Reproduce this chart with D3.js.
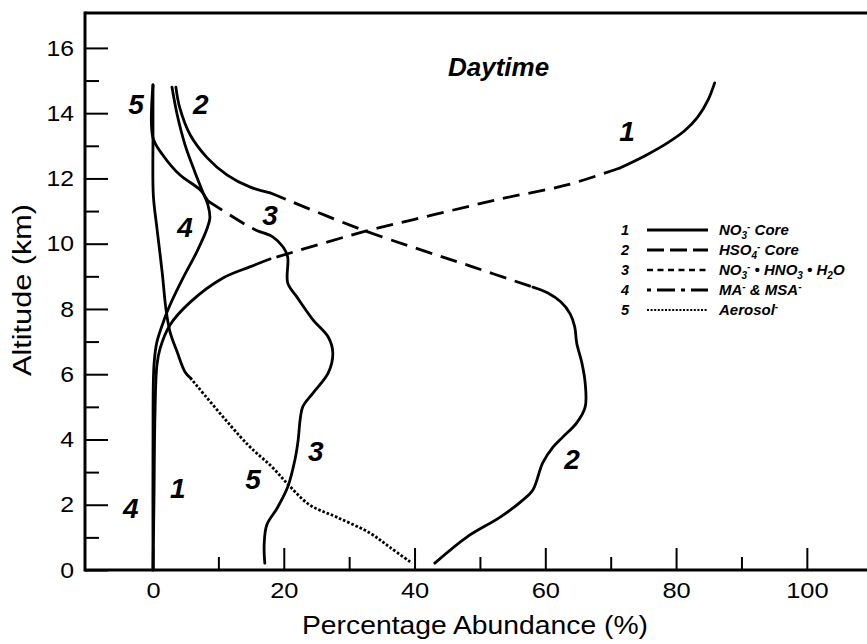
<!DOCTYPE html>
<html><head><meta charset="utf-8">
<script src="https://cdn.jsdelivr.net/npm/d3@7/dist/d3.min.js"></script>
<style>body{margin:0;background:#fff} svg{display:block}</style>
</head><body>
<svg id="chart" width="867" height="644"></svg>
<script>
// ---- data: [percentage abundance (%), altitude (km)] ----
const no3Core = [[85.9,14.93],[84.9,14.41],[83.3,13.88],[81.3,13.46],[78.7,13.09],[75.2,12.69],[71.4,12.32],
  [63.3,11.80],[53.1,11.37],[42.8,10.88],[32.1,10.36],[17.9,9.53],
  [14.8,9.29],[10.7,8.95],[5.7,8.21],[2.6,7.51],[1.1,6.80],[0.6,6.28],[0.3,4.75],[0.15,2.15],[0,0]];
const hso4Core = [[3.5,14.80],[4.1,14.16],[5.7,13.33],[8.3,12.63],[11.3,12.11],[14.8,11.74],[17.9,11.56],
  [32.1,10.42],[48.9,9.29],[58.1,8.67],
  [60.4,8.49],[62.4,8.21],[63.8,7.85],[64.5,7.45],[64.8,6.96],[65.6,6.34],[66.1,5.73],[66.1,5.00],
  [64.8,4.51],[62.7,4.08],[61.2,3.77],[59.6,3.28],[58.1,2.45],[56.6,2.15],[53.1,1.62],[48.0,1.01],[43.1,0.21]];
const no3Hno3H2o = [[0,14.87],[0,13.24],[1.5,12.72],[4.1,12.11],[7.2,11.65],[8.4,11.31],
  [14.8,10.51],[16.4,10.36],
  [18.3,10.21],[19.9,9.90],[20.6,9.59],[20.6,8.80],[22.0,8.37],[24.5,7.66],[26.8,7.14],[27.5,6.65],
  [26.8,6.04],[24.5,5.43],[22.9,5.00],[22.5,4.60],[22.2,3.98],[21.7,3.37],[20.6,2.54],[19.0,1.90],
  [17.4,1.38],[17.0,0.77],[17.1,0.21]];
const maMsa = [[2.9,14.80],[3.7,13.95],[4.9,13.03],[6.4,12.20],[7.6,11.59],[8.4,11.19],[8.7,10.79],
  [8.3,10.48],[6.7,9.75],[4.6,8.95],[2.6,8.12],[1.8,7.72],[0.6,6.99],[0.15,6.28],[0,3.83],[0,0]];
const aerosol = [[0,14.87],[0,13.33],[0.05,11.49],[0.6,10.48],[1.4,9.13],[2.0,7.97],[2.6,7.30],
  [3.7,6.68],[4.9,6.07],[5.7,5.89],
  [14.4,3.86],[18.2,3.16],[20.9,2.57],[24.0,1.99],[28.1,1.62],[33.2,1.13],[36.2,0.70],[39.6,0.21]];

// segments of each curve: [fromIndex, toIndex, style]
const no3CoreSegments = [[0,6,"solid"],[6,11,"dashed"],[11,20,"solid"]];
const hso4CoreSegments = [[0,6,"solid"],[6,9,"dashed"],[9,26,"solid"]];
const no3Hno3H2oSegments = [[0,5,"solid"],[5,7,"dashed"],[7,26,"solid"]];
const maMsaSegments = [[0,15,"solid"]];
const aerosolSegments = [[0,9,"solid"],[9,17,"dotted"]];

// curve number labels
const curveLabelText = ["5","2","3","4","1","4","1","5","3","2"];
const curveLabelPct  = [-2.6, 7.3, 17.9, 4.9, 72.5, -3.4, 3.8, 15.3, 24.9, 64.1];
const curveLabelAlt  = [14.28, 14.28, 10.85, 10.51, 13.43, 1.87, 2.51, 2.76, 3.62, 3.40];

// legend
const legendNumbers = ["1","2","3","4","5"];
const legendNames = [
  [["NO","n"],["3","sub"],["-","sup"],[" Core","n"]],
  [["HSO","n"],["4","sub"],["-","sup"],[" Core","n"]],
  [["NO","n"],["3","sub"],["-","sup"],[" \u2022 HNO","n"],["3","sub"],[" \u2022 H","n"],["2","sub"],["O","n"]],
  [["MA","n"],["-","sup"],[" & MSA","n"],["-","sup"]],
  [["Aerosol","n"],["-","sup"]]
];
const legendStyles = ["solid","longdash","shortdash","dashdot","fine"];

const xTicks = [0,20,40,60,80,100];
const xMinorTicks = [10,30,50,70,90];
const yTicks = [0,2,4,6,8,10,12,14,16];
const yMinorTicks = [1,3,5,7,9,11,13,15];

const title = "Daytime";
const xTitle = "Percentage Abundance (%)";
const yTitle = "Altitude (km)";

// ---- drawing ----
const FONT = "'Liberation Sans', Arial, Helvetica, sans-serif";
const svg = d3.select("#chart");
svg.append("rect").attr("width",867).attr("height",644).attr("fill","#fff");

const x = d3.scaleLinear().domain([-10.4, 109.2]).range([85, 867]);
const y = d3.scaleLinear().domain([0, 17.07]).range([570, 13]);

function stretch(sel, k){
  sel.each(function(){
    const w = this.getComputedTextLength();
    this.setAttribute("textLength", (w*k).toFixed(1));
    this.setAttribute("lengthAdjust","spacingAndGlyphs");
  });
}

// axes
const gx = svg.append("g").attr("transform",`translate(0,${y(0)})`)
  .call(d3.axisBottom(x).tickValues(xTicks).tickSize(-22).tickPadding(12).tickFormat(d3.format("d")));
const gxm = svg.append("g").attr("transform",`translate(0,${y(0)})`)
  .call(d3.axisBottom(x).tickValues(xMinorTicks).tickSize(-13).tickFormat(""));
const gy = svg.append("g").attr("transform",`translate(${x(-10.4)},0)`)
  .call(d3.axisLeft(y).tickValues(yTicks).tickSize(-23).tickPadding(11).tickFormat(d3.format("d")));
const gym = svg.append("g").attr("transform",`translate(${x(-10.4)},0)`)
  .call(d3.axisLeft(y).tickValues(yMinorTicks).tickSize(-14).tickFormat(""));
[gx,gxm,gy,gym].forEach(g=>{
  g.select(".domain").remove();
  g.selectAll(".tick line").attr("stroke","#000").attr("stroke-width",2);
  g.selectAll("text").attr("font-family",FONT).attr("font-size",22.5).attr("fill","#000");
});
stretch(gx.selectAll("text"), 1.13);
stretch(gy.selectAll("text"), 1.1);

// frame
const frame = svg.append("g").attr("stroke","#000").attr("stroke-width",3).attr("fill","none");
frame.append("line").attr("x1",x(-10.4)).attr("x2",x(-10.4)).attr("y1",y(17.07)-1.5).attr("y2",y(0)+1.5);
frame.append("line").attr("x1",x(-10.4)).attr("x2",867).attr("y1",y(17.07)).attr("y2",y(17.07));
frame.append("line").attr("x1",x(-10.4)).attr("x2",867).attr("y1",y(0)).attr("y2",y(0));

// curves
const line = d3.line().x(d=>x(d[0])).y(d=>y(d[1])).curve(d3.curveCatmullRom.alpha(0.5));
const dashFor = {solid:null, dashed:"17,9", dotted:"2.6,1.9"};
const widthFor = {solid:2.8, dashed:2.8, dotted:2.8};
const series = [
  [no3Core, no3CoreSegments],
  [hso4Core, hso4CoreSegments],
  [no3Hno3H2o, no3Hno3H2oSegments],
  [maMsa, maMsaSegments],
  [aerosol, aerosolSegments]
];
const gc = svg.append("g").attr("fill","none").attr("stroke","#000").attr("stroke-linejoin","round");
series.forEach(([pts,segs])=>{
  segs.forEach(([a,b,style])=>{
    gc.append("path").attr("d", line(pts.slice(a,b+1)))
      .attr("stroke-width", widthFor[style])
      .attr("stroke-dasharray", dashFor[style])
      .attr("stroke-linecap", style==="solid" ? "round" : "butt");
  });
});

// curve labels
svg.append("g").selectAll("text").data(curveLabelText).join("text")
  .attr("x",(d,i)=>x(curveLabelPct[i])).attr("y",(d,i)=>y(curveLabelAlt[i]))
  .attr("text-anchor","middle").attr("dominant-baseline","central")
  .attr("font-family",FONT).attr("font-size",28).attr("font-weight","bold").attr("font-style","italic")
  .text(d=>d);

// title
svg.append("text").attr("x",448).attr("y",76).attr("font-family",FONT).attr("font-size",26)
  .attr("font-weight","bold").attr("font-style","italic").text(title);

// axis titles
svg.append("text").attr("x",475).attr("y",634).attr("text-anchor","middle")
  .attr("font-family",FONT).attr("font-size",25.5)
  .attr("textLength",346).attr("lengthAdjust","spacingAndGlyphs").text(xTitle);
svg.append("text").attr("transform",`translate(31,${290}) rotate(-90)`).attr("text-anchor","middle")
  .attr("font-family",FONT).attr("font-size",26)
  .attr("textLength",172).attr("lengthAdjust","spacingAndGlyphs").text(yTitle);

// legend
const legDash = {solid:null, longdash:"17,6", shortdash:"6,4.5", dashdot:"4,6,18,6", fine:"2,1.6"};
const legWidth = {solid:3, longdash:3, shortdash:2.4, dashdot:3, fine:2};
const lg = svg.append("g");
legendNumbers.forEach((num,i)=>{
  const cy = 230 + 20*i;
  lg.append("text").attr("x",625).attr("y",cy+5).attr("text-anchor","middle")
    .attr("font-family",FONT).attr("font-size",14.5).attr("font-weight","bold").attr("font-style","italic").text(num);
  lg.append("line").attr("x1",647).attr("x2",708).attr("y1",cy).attr("y2",cy)
    .attr("stroke","#000").attr("stroke-width",legWidth[legendStyles[i]])
    .attr("stroke-dasharray",legDash[legendStyles[i]]);
  const t = lg.append("text").attr("x",719).attr("y",cy+5)
    .attr("font-family",FONT).attr("font-size",15).attr("font-weight","bold").attr("font-style","italic");
  let prev = "n";
  legendNames[i].forEach(([s,k])=>{
    const ts = t.append("tspan").text(s);
    if(k==="sub"){ ts.attr("font-size",10).attr("dy", prev==="sup"?9:4); }
    else if(k==="sup"){ ts.attr("font-size",10).attr("dy", prev==="sub"?-9:-5); }
    else { if(prev==="sub") ts.attr("dy",-4); else if(prev==="sup") ts.attr("dy",5); }
    prev = k;
  });
});
</script>
</body></html>
